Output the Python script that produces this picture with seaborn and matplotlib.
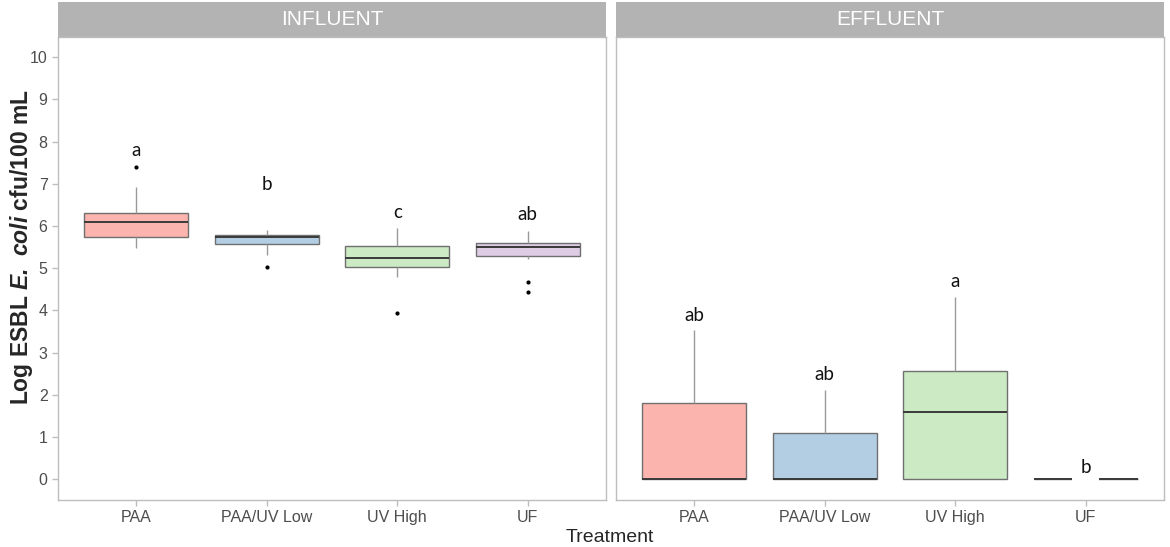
import pandas as pd
import seaborn as sns
import matplotlib.pyplot as plt
from matplotlib.patches import Rectangle

treatments = ['PAA', 'PAA/UV Low', 'UV High', 'UF']
colors = ['#FBB4AE', '#B3CDE3', '#CCEBC5', '#DECBE4']

# values (log cfu/100 mL)
infl_paa = [5.47, 5.60, 5.73, 5.90, 6.10, 6.20, 6.31, 6.92, 7.39]
infl_low = [5.03, 5.32, 5.58, 5.65, 5.73, 5.76, 5.79, 5.85, 5.90]
infl_high = [3.93, 4.79, 5.02, 5.12, 5.24, 5.40, 5.52, 5.75, 5.96]
infl_uf = [4.45, 4.67, 5.21, 5.30, 5.38, 5.45, 5.51, 5.54, 5.57, 5.60, 5.70, 5.80, 5.88]

eff_paa = [0, 0, 0, 0, 0, 0.90, 1.81, 2.60, 3.53]
eff_low = [0, 0, 0, 0, 0, 0.60, 1.10, 1.60, 2.11]
eff_high = [0, 0, 0, 0.80, 1.60, 2.10, 2.57, 3.40, 4.31]
eff_uf = [0, 0, 0, 0, 0, 0, 0, 0, 0]

# significance letters and their baselines
infl_letters = ['a', 'b', 'c', 'ab']
infl_letter_y = [7.66, 6.86, 6.18, 6.14]
eff_letters = ['ab', 'ab', 'a', 'b']
eff_letter_y = [3.76, 2.35, 4.55, 0.16]


def make_df(groups):
    rows = []
    for t, vals in zip(treatments, groups):
        for v in vals:
            rows.append({'Treatment': t, 'Value': v})
    return pd.DataFrame(rows)


df_in = make_df([infl_paa, infl_low, infl_high, infl_uf])
df_out = make_df([eff_paa, eff_low, eff_high, eff_uf])

sns.set_style('white')
plt.rcParams['font.family'] = ['Liberation Sans', 'DejaVu Sans']
plt.rcParams['mathtext.fontset'] = 'custom'
plt.rcParams['mathtext.bfit'] = 'Liberation Sans:bold:italic'
plt.rcParams['mathtext.rm'] = 'Liberation Sans:bold'

fig = plt.figure(figsize=(11.7, 5.47), dpi=100)
W, H = 1170, 547
ax1 = fig.add_axes([58 / W, 47 / H, 548 / W, 463 / H])
ax2 = fig.add_axes([616 / W, 47 / H, 548 / W, 463 / H], sharey=ax1)

pal = dict(zip(treatments, colors))
box_kw = dict(x='Treatment', y='Value', hue='Treatment', order=treatments,
              palette=pal, width=0.8, linewidth=1, showcaps=False,
              legend=False, saturation=1,
              flierprops=dict(marker='o', markersize=2, markerfacecolor='black',
                              markeredgecolor='black'),
              boxprops=dict(edgecolor='#707070'),
              whiskerprops=dict(color='#9a9a9a'),
              medianprops=dict(color='#3a3a3a', linewidth=1.4))

panels = [(ax1, df_in, 'INFLUENT', infl_letters, infl_letter_y),
          (ax2, df_out, 'EFFLUENT', eff_letters, eff_letter_y)]

for ax, d, name, letters, ly in panels:
    sns.boxplot(data=d, ax=ax, **box_kw)
    ax.set_xlim(-0.6, 3.6)
    ax.set_ylim(-0.49, 10.48)
    ax.set_xlabel('')
    ax.set_ylabel('')
    for s in ax.spines.values():
        s.set_color('#BDBDBD')
        s.set_linewidth(1)
    ax.tick_params(axis='both', colors='#BDBDBD', labelcolor='#4D4D4D',
                   labelsize=11.5, length=4, width=1, bottom=True, left=True)
    # strip header
    sh = 35 / 463
    ax.add_patch(Rectangle((0, 1), 1, sh, transform=ax.transAxes,
                           facecolor='#B3B3B3', edgecolor='none', clip_on=False))
    ax.text(0.5, 1 + sh / 2, name, transform=ax.transAxes, ha='center',
            va='center', color='white', fontsize=15)
    for i, (lab, y) in enumerate(zip(letters, ly)):
        bb = None
        if name == 'EFFLUENT' and i == 3:
            bb = dict(facecolor='white', edgecolor='none', pad=6)
        ax.text(i, y, lab, ha='center', va='baseline', fontsize=13.5,
                family=['Lato', 'DejaVu Sans'], color='#111111', bbox=bb)

ax1.set_yticks(range(0, 11))
ax2.tick_params(axis='y', left=False, labelleft=False)

fig.text(22 / W, 1 - 247 / H, r'Log ESBL $\mathbfit{E.\ coli}$ cfu/100 mL',
         rotation=90, ha='center', va='center', fontsize=16.5, fontweight='bold')
fig.text(610 / W, 1 - 538 / H, 'Treatment', ha='center', va='center',
         fontsize=14)

fig.savefig('out.png', dpi=100)
